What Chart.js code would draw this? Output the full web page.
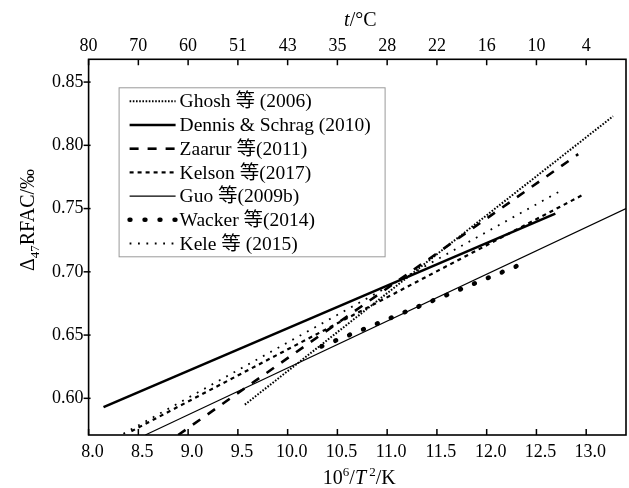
<!DOCTYPE html>
<html>
<head>
<meta charset="utf-8">
<script src="https://cdn.jsdelivr.net/npm/chart.js@4.4.1/dist/chart.umd.min.js"></script>
<style>
html,body{margin:0;padding:0;background:#fff;}
#wrap{width:629px;height:488px;}
</style>
</head>
<body>
<div id="wrap"><canvas id="c" width="629" height="488"></canvas></div>
<script>
// ---- data ----
const xTicks = [8.0, 8.5, 9.0, 9.5, 10.0, 10.5, 11.0, 11.5, 12.0, 12.5, 13.0];
const topTickLabels = ['80', '70', '60', '51', '43', '35', '28', '22', '16', '10', '4'];
const yTicks = [0.60, 0.65, 0.70, 0.75, 0.80, 0.85];

const seriesNames = ['Ghosh 等 (2006)', 'Dennis & Schrag (2010)', 'Zaarur 等(2011)', 'Kelson 等(2017)', 'Guo 等(2009b)', 'Wacker 等(2014)', 'Kele 等 (2015)'];

const ghoshX = [9.57, 13.27];   const ghoshY = [0.595, 0.823];
const dennisX = [8.15, 12.69];  const dennisY = [0.593, 0.746];
const zaarurX = [8.90, 12.92];  const zaarurY = [0.571, 0.793];
const kelsonX = [8.43, 12.97];  const kelsonY = [0.574, 0.761];
const guoX = [8.57, 13.40];     const guoY = [0.571, 0.750];
const wackerX = [10.34, 12.41]; const wackerY = [0.641, 0.708];
const keleX = [8.35, 12.72];    const keleY = [0.572, 0.763];

const seriesX = [ghoshX, dennisX, zaarurX, kelsonX, guoX, wackerX, keleX];
const seriesY = [ghoshY, dennisY, zaarurY, kelsonY, guoY, wackerY, keleY];

// ---- styles ----
const styles = [
  {w: 2.0, dash: [1.6, 1.6], cap: 'butt'},   // Ghosh: dense dots
  {w: 2.6, dash: [], cap: 'butt'},           // Dennis: thick solid
  {w: 2.6, dash: [9, 9], cap: 'butt'},       // Zaarur: long dashes
  {w: 2.2, dash: [4, 4], cap: 'butt'},       // Kelson: short dashes
  {w: 1.1, dash: [], cap: 'butt'},           // Guo: thin solid
  {w: 4.6, dash: [0.8, 14.2], cap: 'round'}, // Wacker: big dots
  {w: 1.8, dash: [1.8, 6.6], cap: 'butt'}    // Kele: sparse dots
];

const SERIF = "'Liberation Serif', 'Times New Roman', 'Noto Sans CJK SC', serif";

const datasets = seriesNames.map((name, i) => ({
  label: name,
  data: seriesX[i].map((x, j) => ({x: x, y: seriesY[i][j]})),
  borderColor: '#000',
  backgroundColor: '#000',
  borderWidth: styles[i].w,
  borderDash: styles[i].dash,
  borderCapStyle: styles[i].cap,
  pointRadius: 0,
  fill: false,
  tension: 0
}));

const frameLegendPlugin = {
  id: 'frameLegend',
  afterDraw(chart) {
    const ctx = chart.ctx;
    const a = chart.chartArea;
    const xs = chart.scales.x, ys = chart.scales.y;
    ctx.save();
    // frame
    ctx.strokeStyle = '#000';
    ctx.lineWidth = 1.6;
    ctx.setLineDash([]);
    ctx.strokeRect(a.left, a.top, a.right - a.left, a.bottom - a.top);
    // x ticks (inward, bottom and top)
    ctx.lineWidth = 1.5;
    xs.ticks.forEach(t => {
      const px = xs.getPixelForValue(t.value);
      ctx.beginPath();
      ctx.moveTo(px, a.bottom); ctx.lineTo(px, a.bottom - 6);
      ctx.moveTo(px, a.top); ctx.lineTo(px, a.top + 6);
      ctx.stroke();
    });
    // y ticks (outward)
    ys.ticks.forEach(t => {
      const py = ys.getPixelForValue(t.value);
      ctx.beginPath();
      ctx.moveTo(a.left - 5, py); ctx.lineTo(a.left + 2, py);
      ctx.stroke();
    });

    // legend
    const lx = a.left + 30, ly = a.top + 28, lw = 266, lh = 169;
    ctx.fillStyle = '#fff';
    ctx.fillRect(lx, ly, lw, lh);
    ctx.strokeStyle = '#9a9a9a';
    ctx.lineWidth = 1;
    ctx.strokeRect(lx + 0.5, ly + 0.5, lw, lh);
    ctx.font = "19.5px " + SERIF;
    ctx.textBaseline = 'middle';
    ctx.textAlign = 'left';
    chart.data.datasets.forEach((ds, i) => {
      const yy = ly + 14 + i * 23.7;
      ctx.strokeStyle = '#000';
      ctx.lineWidth = ds.borderWidth;
      ctx.lineCap = ds.borderCapStyle;
      ctx.setLineDash(ds.borderDash || []);
      ctx.beginPath();
      ctx.moveTo(lx + 11, yy); ctx.lineTo(lx + 57, yy);
      ctx.stroke();
      ctx.setLineDash([]);
      ctx.lineCap = 'butt';
      ctx.fillStyle = '#000';
      ctx.fillText(ds.label, lx + 61, yy + 1);
    });

    // axis titles
    ctx.fillStyle = '#000';
    ctx.textBaseline = 'alphabetic';
    // bottom title: 10^6/T^2/K
    const big = "20px " + SERIF, ital = "italic 20px " + SERIF, small = "13px " + SERIF;
    const parts = [
      {t: '10', f: big, dy: 0},
      {t: '6', f: small, dy: -8},
      {t: '/', f: big, dy: 0},
      {t: 'T', f: ital, dy: 0},
      {t: ' 2', f: small, dy: -8},
      {t: '/K', f: big, dy: 0}
    ];
    let tw = 0;
    parts.forEach(p => { ctx.font = p.f; p.w = ctx.measureText(p.t).width; tw += p.w; });
    let cx = (a.left + a.right) / 2 + 2 - tw / 2;
    parts.forEach(p => { ctx.font = p.f; ctx.fillText(p.t, cx, 484 + p.dy); cx += p.w; });

    // top title: t/°C
    const tparts = [
      {t: 't', f: ital, dy: 0},
      {t: '/°C', f: big, dy: 0}
    ];
    tw = 0;
    tparts.forEach(p => { ctx.font = p.f; p.w = ctx.measureText(p.t).width; tw += p.w; });
    cx = (a.left + a.right) / 2 + 3 - tw / 2;
    tparts.forEach(p => { ctx.font = p.f; ctx.fillText(p.t, cx, 26 + p.dy); cx += p.w; });

    // left title: Δ47RFAC/‰
    const lparts = [
      {t: 'Δ', f: big, dy: 0},
      {t: '47', f: small, dy: 5},
      {t: 'RFAC/‰', f: big, dy: 0}
    ];
    tw = 0;
    lparts.forEach(p => { ctx.font = p.f; p.w = ctx.measureText(p.t).width; tw += p.w; });
    ctx.translate(34, 220);
    ctx.rotate(-Math.PI / 2);
    cx = -tw / 2;
    lparts.forEach(p => { ctx.font = p.f; ctx.fillText(p.t, cx, p.dy); cx += p.w; });
    ctx.restore();
  }
};

const tickFont = {family: SERIF, size: 18};

new Chart(document.getElementById('c'), {
  type: 'line',
  data: {datasets: datasets},
  options: {
    responsive: false,
    animation: false,
    devicePixelRatio: 1,
    layout: {padding: {left: 0, right: 3, top: 0, bottom: 0}},
    plugins: {legend: {display: false}, tooltip: {enabled: false}, title: {display: false}},
    scales: {
      x: {
        type: 'linear', position: 'bottom', min: 8.0, max: 13.4,
        grid: {display: false, drawTicks: false}, border: {display: false},
        ticks: {font: tickFont, color: '#000', padding: 6, labelOffset: 4, maxRotation: 0,
                callback: (v) => Number(v).toFixed(1)},
        afterBuildTicks: (s) => { s.ticks = xTicks.map(v => ({value: v})); },
        afterFit: (s) => { s.height = 53; }
      },
      x2: {
        type: 'linear', position: 'top', min: 8.0, max: 13.4,
        grid: {display: false, drawTicks: false}, border: {display: false},
        ticks: {font: tickFont, color: '#000', padding: 2, maxRotation: 0,
                callback: (v, i) => topTickLabels[i]},
        afterBuildTicks: (s) => { s.ticks = xTicks.map(v => ({value: v})); },
        afterFit: (s) => { s.height = 59.3; }
      },
      y: {
        type: 'linear', position: 'left', min: 0.571, max: 0.868,
        grid: {display: false, drawTicks: false}, border: {display: false},
        ticks: {font: tickFont, color: '#000', padding: 5,
                callback: (v) => Number(v).toFixed(2)},
        afterBuildTicks: (s) => { s.ticks = yTicks.map(v => ({value: v})); },
        afterFit: (s) => { s.width = 88.6; }
      }
    }
  },
  plugins: [frameLegendPlugin]
});
</script>
</body>
</html>
